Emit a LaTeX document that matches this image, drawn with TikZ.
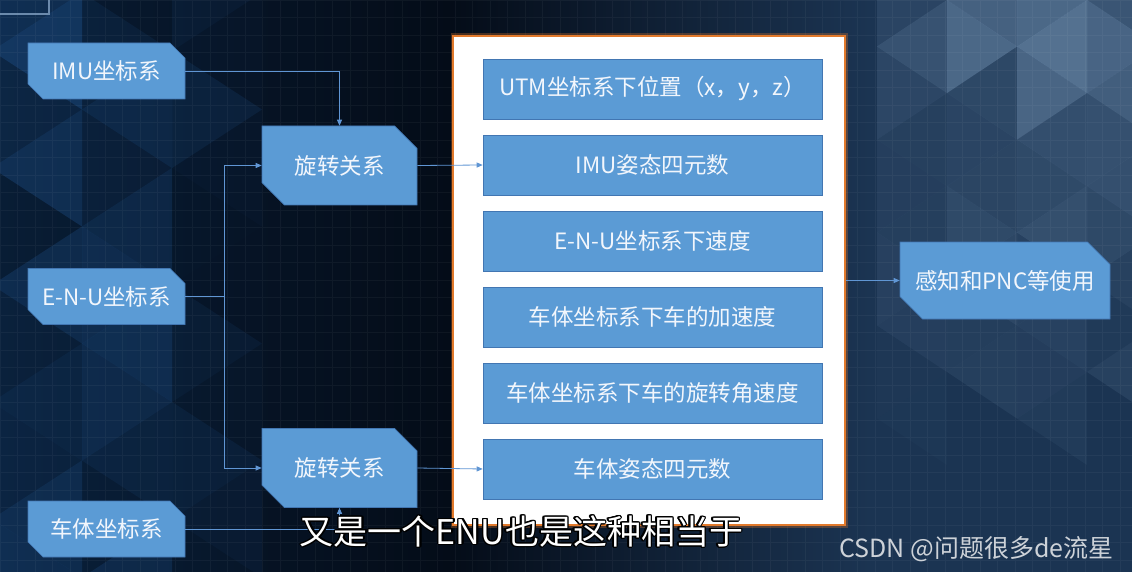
\documentclass[tikz,border=0pt]{standalone}
\usepackage{fontspec}
\setmainfont{Noto Sans CJK SC}
\usepackage[copies]{contour}
\usetikzlibrary{arrows.meta,positioning,shapes.misc}
\definecolor{fus@box}{RGB}{91,155,213}
\definecolor{fus@edge}{RGB}{66,118,178}
\definecolor{fus@link}{RGB}{96,150,212}
\definecolor{fus@text}{RGB}{242,246,252}
\definecolor{fus@night}{RGB}{4,12,24}
\definecolor{fus@deep}{RGB}{8,28,52}
\definecolor{fus@steel}{RGB}{27,52,82}
\definecolor{fus@tri}{RGB}{38,100,170}
\definecolor{fus@grey}{RGB}{130,162,195}
\definecolor{fus@glow}{RGB}{226,122,44}
\definecolor{fus@credit}{RGB}{205,210,216}
\contourlength{1.3pt}
\contournumber{16}
\tikzset{
  fusion/.style={
    x=1pt, y=-1pt,
    >={Triangle[length=6pt,width=5pt]},
    line width=0.8pt
  },
  srcbox/.style={                  % input frame node
    chamfered rectangle,
    chamfered rectangle corners={north east,south west},
    chamfered rectangle xsep=7pt, chamfered rectangle ysep=8pt,
    draw=fus@edge, line width=0.6pt,
    fill=fus@box, text=fus@text,
    inner sep=0pt,
    font=\fontsize{22.5}{26}\selectfont,
    minimum width=157pt, minimum height=56pt
  },
  rotbox/.style={                  % rotation node
    srcbox,
    chamfered rectangle xsep=12pt, chamfered rectangle ysep=12pt,
    minimum width=155pt, minimum height=79pt
  },
  stbox/.style={                   % output state field
    rectangle, draw=fus@edge, line width=0.6pt,
    fill=fus@box, text=fus@text,
    inner sep=0pt,
    font=\fontsize{22.5}{26}\selectfont,
    minimum width=339pt, minimum height=60pt
  },
  panel/.style={
    rectangle, draw=fus@glow, line width=1.6pt, fill=white,
    preaction={draw=fus@glow, line width=5pt, opacity=0.3},
    minimum width=392pt, minimum height=489pt
  },
  link/.style={->, draw=fus@link, line width=0.8pt},
  gridline/.style={draw=white, opacity=0.045, line width=0.5pt},
  subtitle/.style={text=white, font=\fontsize{34}{40}\selectfont, inner sep=0pt},
  credit/.style={text=fus@credit, font=\fontsize{25}{30}\selectfont, inner sep=0pt}
}

\begin{document}
\begin{tikzpicture}[fusion]
\useasboundingbox (0,0) rectangle (1132,572);

% Backdrop: dark navy, lighter to the right
\fill[fus@night] (0,0) rectangle (1132,572);
\shade[left color=fus@deep, right color=fus@night] (0,0) rectangle (450,572);
\shade[left color=fus@night, right color=fus@steel] (450,0) rectangle (870,572);
\fill[fus@steel] (870,0) rectangle (1132,572);

% Triangle pattern, left (blue) and top right (grey)
\pgfmathsetseed{11}
\foreach \xa/\xb/\ya/\k in {-8/82/-66/1, 82/172/-7.5/0.8, 172/262/-66/0.45} {
  \foreach \r in {0,...,5} {
    \pgfmathsetmacro\yt{\ya+117*\r}
    \pgfmathsetmacro\op{0.4*rnd*\k}
    \fill[fus@tri, opacity=\op] (\xa,\yt) -- (\xa,\yt+117) -- (\xb,\yt+58.5) -- cycle;
    \pgfmathsetmacro\op{0.4*rnd*\k}
    \fill[fus@tri, opacity=\op] (\xb,\yt+58.5) -- (\xb,\yt+175.5) -- (\xa,\yt+117) -- cycle;
  }
}
\foreach \xa/\xb/\ya/\k in {877/947/46.5/0.6, 947/1017/0/1, 1017/1087/46.5/1, 1087/1157/0/1} {
  \foreach \r in {-1,...,3} {
    \pgfmathsetmacro\yt{\ya+93*\r}
    \pgfmathsetmacro\op{(0.2+0.45*rnd)*\k*(1-0.2*(\r+1))}
    \fill[fus@grey, opacity=\op] (\xa,\yt) -- (\xa,\yt+93) -- (\xb,\yt+46.5) -- cycle;
    \pgfmathsetmacro\op{(0.2+0.45*rnd)*\k*(1-0.2*(\r+1))}
    \fill[fus@grey, opacity=\op] (\xb,\yt+46.5) -- (\xb,\yt+139.5) -- (\xa,\yt+93) -- cycle;
  }
}
\draw[gridline] (0,0) grid[step=17.5pt] (1132,572);
\draw[fus@grey, line width=1.5pt, opacity=0.8] (0,14) -- (49,14) -- (49,0);

% Input frames (left)
\node[srcbox] (imu)  at (106.5,71)  {IMU坐标系};
\node[srcbox] (enu)  at (106.5,296.5) {E-N-U坐标系};
\node[srcbox] (body) at (106.5,529) {车体坐标系};

% Rotations
\node[rotbox] (rot1) at (339.5,165.5) {旋转关系};
\node[rotbox] (rot2) at (339.5,468)   {旋转关系};

% Output message panel with its six fields
\node[panel] (panel) at (649,280.5) {};
\node[stbox] (pos)  at (652.5,89)  {UTM坐标系下位置（x，y，z）};
\node[stbox] (qimu) at (652.5,165) {IMU姿态四元数};
\node[stbox] (vel)  at (652.5,241) {E-N-U坐标系下速度};
\node[stbox] (acc)  at (652.5,317) {车体坐标系下车的加速度};
\node[stbox] (gyr)  at (652.5,393) {车体坐标系下车的旋转角速度};
\node[stbox] (qcar) at (652.5,469) {车体姿态四元数};

% Consumer
\node[rotbox, minimum width=210pt, minimum height=77pt] (pnc) at (1005,280.5) {感知和PNC等使用};

% Connectors
\coordinate (fork) at (224,296.5);
\draw[link] (imu.east) -| (rot1.north);
\draw[link, -] (enu.east) -- (fork);
\draw[link] (fork) |- (rot1.west);
\draw[link] (fork) |- (rot2.west);
\draw[link] (body.east) -| (rot2.south);
\draw[link] (rot1.east) -- (qimu.west);
\draw[link] (rot2.east) -- (qcar.west);
\draw[link] (panel.east) -- (pnc.west);

% Subtitle and credit
\node[subtitle] (sub) at (521.5,532) {\contour{black}{又是一个ENU也是这种相当于}};
\node[credit] (mark) at (976.5,549) {CSDN @问题很多de流星};

\end{tikzpicture}
\end{document}
